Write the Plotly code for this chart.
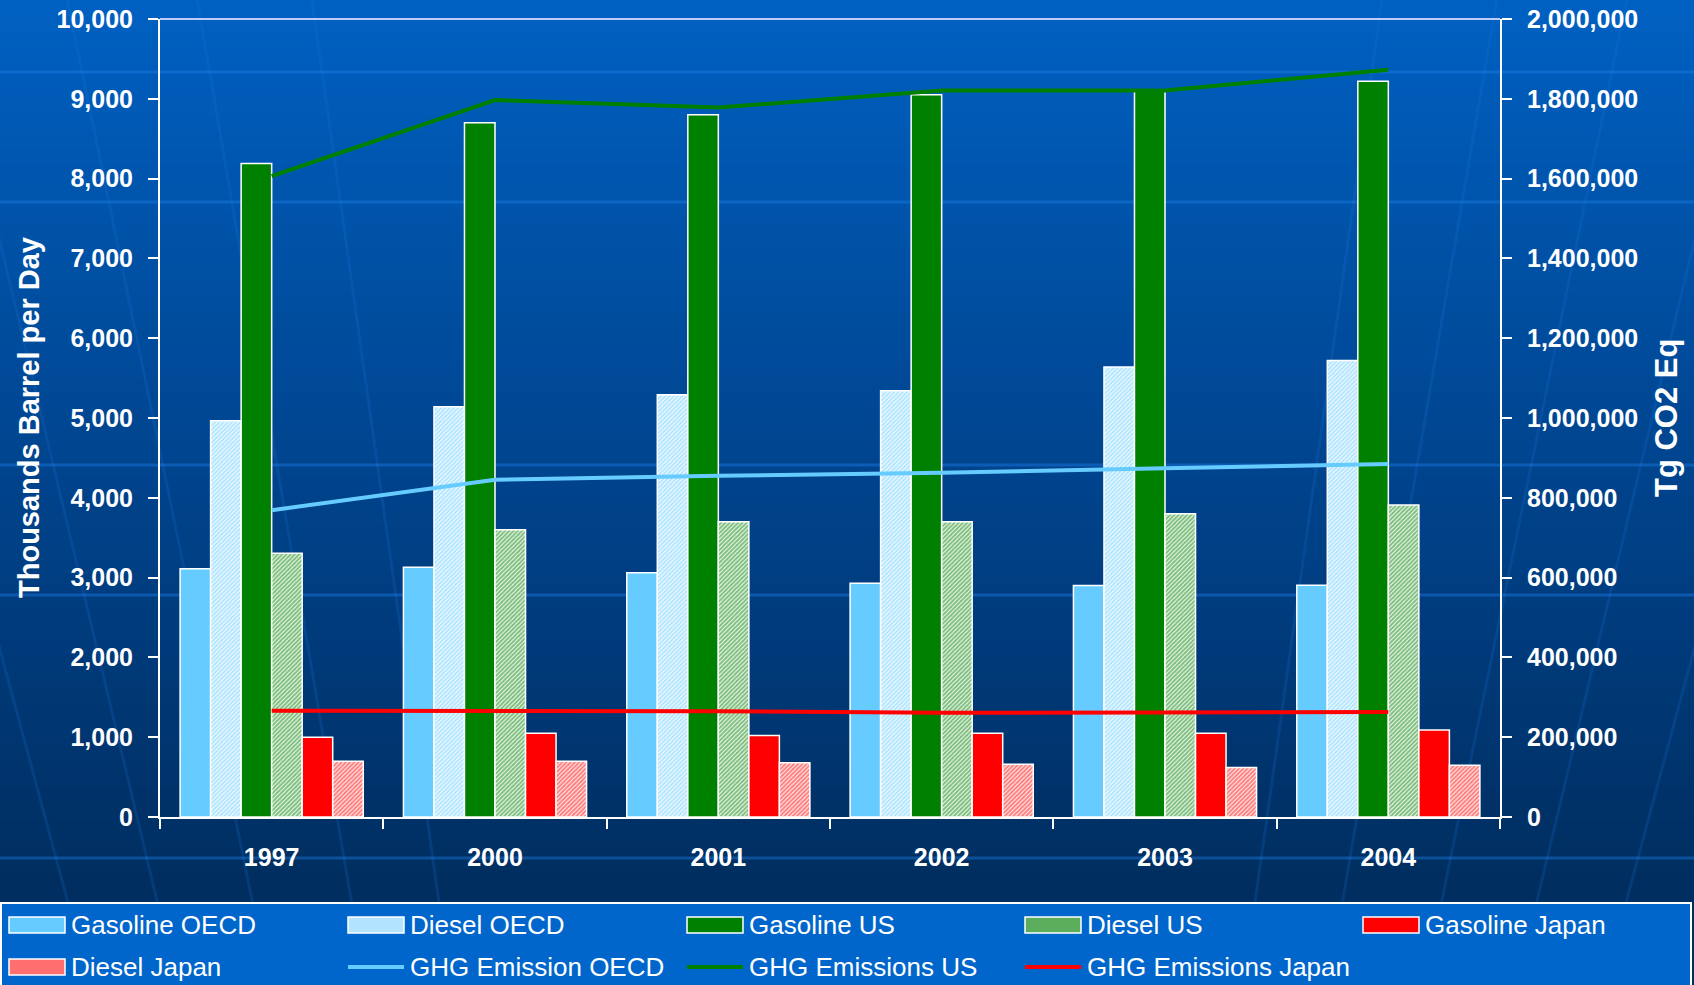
import plotly.graph_objects as go

# ---------------- data ----------------
years = ["1997", "2000", "2001", "2002", "2003", "2004"]
gasoline_oecd = [3110, 3130, 3060, 2930, 2900, 2905]
diesel_oecd = [4965, 5140, 5290, 5340, 5640, 5720]
gasoline_us = [8190, 8700, 8800, 9050, 9110, 9220]
diesel_us = [3305, 3600, 3700, 3700, 3800, 3910]
gasoline_japan = [1000, 1050, 1020, 1050, 1050, 1090]
diesel_japan = [700, 700, 680, 660, 620, 650]
ghg_oecd = [769000, 845000, 855000, 863000, 874000, 885000]
ghg_us = [1606000, 1797000, 1778000, 1821000, 1821000, 1873000]
ghg_japan = [266000, 266000, 265000, 261000, 261000, 263000]

left_ticks = list(range(0, 10001, 1000))
right_ticks = list(range(0, 2000001, 200000))

# ---------------- layout geometry (pixels) ----------------
FW, FH = 1694, 985
L, R, T, B = 160, 1500, 19, 817
W, H = R - L, B - T


def px_x(p):
    return (p - L) / W


def px_y(p):
    return (B - p) / H


FONT = "Liberation Sans, Arial, sans-serif"
LBLUE = "#66ccff"
GREEN = "#008000"
RED = "#ff0000"

fig = go.Figure()

bar_specs = [
    ("Gasoline OECD", gasoline_oecd, LBLUE, None),
    ("Diesel OECD", diesel_oecd, LBLUE, "/"),
    ("Gasoline US", gasoline_us, GREEN, None),
    ("Diesel US", diesel_us, GREEN, "/"),
    ("Gasoline Japan", gasoline_japan, RED, None),
    ("Diesel Japan", diesel_japan, RED, "/"),
]
for name, vals, col, pat in bar_specs:
    if pat:
        marker = dict(
            color="white",
            line=dict(color="white", width=1.5),
            pattern=dict(shape=pat, fgcolor=col, bgcolor="white", size=3,
                         solidity=0.7, fillmode="overlay"),
        )
    else:
        marker = dict(color=col, line=dict(color="white", width=1.5))
    fig.add_trace(go.Bar(name=name, x=years, y=vals, marker=marker,
                         showlegend=False))

line_specs = [
    ("GHG Emission OECD", ghg_oecd, LBLUE),
    ("GHG Emissions US", ghg_us, GREEN),
    ("GHG Emissions Japan", ghg_japan, RED),
]
for name, vals, col in line_specs:
    fig.add_trace(go.Scatter(name=name, x=years, y=vals, yaxis="y2",
                             mode="lines", line=dict(color=col, width=4),
                             showlegend=False))

# ---------------- background ----------------
shapes = []
top_c = (0, 96, 194)
mid_c = (0, 70, 146)
bot_c = (0, 46, 96)


def lerp(a, b, t):
    return tuple(int(round(a[i] + (b[i] - a[i]) * t)) for i in range(3))


N = 60
for i in range(N):
    y0p = FH * i / N
    y1p = FH * (i + 1) / N + 1
    t = (i + 0.5) / N
    yc = t * FH
    if yc < 430:
        c = lerp(top_c, mid_c, yc / 430)
    else:
        c = lerp(mid_c, bot_c, min(1, (yc - 430) / 450))
    shapes.append(dict(type="rect", xref="paper", yref="paper", layer="below",
                       x0=px_x(-2), x1=px_x(FW + 2), y0=px_y(y1p), y1=px_y(y0p),
                       line=dict(width=0), fillcolor="rgb(%d,%d,%d)" % c))

# faint globe meridians
CX, CY = 847, 3800
for xb in [45, 137, 235, 337, 427, 1267, 1357, 1459, 1557, 1649]:
    pts = []
    for yy in range(0, 905, 60):
        xx = CX + (xb - CX) * (CY - yy) / (CY - 817)
        pts.append((px_x(xx), px_y(yy)))
    yy = 903
    xx = CX + (xb - CX) * (CY - yy) / (CY - 817)
    pts.append((px_x(xx), px_y(yy)))
    path = "M " + " L ".join("%.5f,%.5f" % p for p in pts)
    shapes.append(dict(type="path", xref="paper", yref="paper", layer="below",
                       path=path, line=dict(color="rgba(30,120,230,0.18)", width=3)))

# decorative light horizontal bands
for yy in [72, 202, 465, 595, 858]:
    shapes.append(dict(type="line", xref="paper", yref="paper", layer="below",
                       x0=px_x(0), x1=px_x(FW), y0=px_y(yy), y1=px_y(yy),
                       line=dict(color="rgba(30,130,240,0.4)", width=3)))

# top border of plot area
shapes.append(dict(type="line", xref="paper", yref="paper",
                   x0=0, x1=1, y0=1, y1=1,
                   line=dict(color="rgba(210,215,255,0.9)", width=2)))

# ---------------- manual legend ----------------
shapes.append(dict(type="rect", xref="paper", yref="paper",
                   x0=px_x(1), x1=px_x(1691), y0=px_y(1000), y1=px_y(903),
                   line=dict(color="white", width=2), fillcolor="#0066cc"))

annotations = []
col_x = [9, 348, 687, 1025, 1363]
row_y = [925, 967]
legend_items = [
    ("Gasoline OECD", "rect", LBLUE),
    ("Diesel OECD", "rect", "#b3e4ff"),
    ("Gasoline US", "rect", GREEN),
    ("Diesel US", "rect", "#5cae5c"),
    ("Gasoline Japan", "rect", RED),
    ("Diesel Japan", "rect", "#ff6f6f"),
    ("GHG Emission OECD", "line", LBLUE),
    ("GHG Emissions US", "line", GREEN),
    ("GHG Emissions Japan", "line", RED),
]
for k, (name, kind, col) in enumerate(legend_items):
    cx = col_x[k % 5]
    cy = row_y[k // 5]
    if kind == "rect":
        shapes.append(dict(type="rect", xref="paper", yref="paper",
                           x0=px_x(cx), x1=px_x(cx + 56),
                           y0=px_y(cy + 8), y1=px_y(cy - 8),
                           line=dict(color="white", width=1.5), fillcolor=col))
    else:
        shapes.append(dict(type="line", xref="paper", yref="paper",
                           x0=px_x(cx), x1=px_x(cx + 56),
                           y0=px_y(cy), y1=px_y(cy),
                           line=dict(color=col, width=4)))
    annotations.append(dict(text=name, xref="paper", yref="paper",
                            x=px_x(cx + 60), y=px_y(cy), xanchor="left",
                            yanchor="middle", showarrow=False,
                            font=dict(family=FONT, size=26, color="white")))

# axis titles
annotations.append(dict(text="Thousands Barrel per Day", xref="paper", yref="paper",
                        x=px_x(29), y=0.5, textangle=-90, showarrow=False,
                        xanchor="center", yanchor="middle",
                        font=dict(family=FONT, size=29, color="white", weight="bold")))
annotations.append(dict(text="Tg CO2 Eq", xref="paper", yref="paper",
                        x=px_x(1666), y=0.5, textangle=-90, showarrow=False,
                        xanchor="center", yanchor="middle",
                        font=dict(family=FONT, size=31, color="white", weight="bold")))

tickfont = dict(family=FONT, size=25, color="white", weight="bold")

fig.update_layout(
    width=FW, height=FH,
    margin=dict(l=L, r=FW - R, t=T, b=FH - B, autoexpand=False),
    paper_bgcolor="rgb(0,46,96)",
    plot_bgcolor="rgba(0,0,0,0)",
    barmode="group", bargap=0.18, bargroupgap=0,
    showlegend=False,
    shapes=shapes, annotations=annotations,
    xaxis=dict(type="category", showgrid=False, showline=True, linecolor="white",
               linewidth=2, ticks="outside", tickson="boundaries", ticklen=10,
               tickcolor="white", tickwidth=2, ticklabelstandoff=17,
               tickfont=dict(family=FONT, size=25, color="white", weight="bold"),
               zeroline=False),
    yaxis=dict(range=[0, 10000], tickvals=left_ticks, tickformat=",",
               showgrid=False, zeroline=False, showline=True, linecolor="white",
               linewidth=2, ticks="outside", ticklen=10, tickcolor="white",
               tickwidth=2, ticklabelstandoff=10, tickfont=tickfont),
    yaxis2=dict(range=[0, 2000000], tickvals=right_ticks, tickformat=",",
                overlaying="y", side="right", showgrid=False, zeroline=False,
                showline=True, linecolor="white", linewidth=2, ticks="outside",
                ticklen=10, tickcolor="white", tickwidth=2, ticklabelstandoff=10,
                tickfont=tickfont),
)

fig.write_html("out.html")
